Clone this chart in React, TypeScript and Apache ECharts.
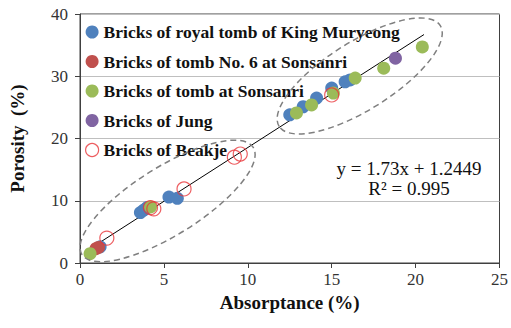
import React, { useEffect, useRef } from "react";
import * as echarts from "echarts";

const xTicks = [0, 5, 10, 15, 20, 25];
const yTicks = [0, 10, 20, 30, 40];

const royalTomb: number[][] = [
  [1.2, 2.6], [3.6, 8.1], [3.8, 8.5], [4.0, 8.9], [5.3, 10.6], [5.8, 10.4],
  [12.5, 23.8], [13.3, 25.1], [14.1, 26.5], [15.0, 28.1], [15.8, 29.1], [16.1, 29.4],
];
const tombNo6: number[][] = [[0.95, 2.3], [1.1, 2.5]];
const tombSonsanri: number[][] = [
  [0.6, 1.5], [4.2, 9.0], [12.9, 24.1], [13.8, 25.4], [15.1, 27.3], [16.4, 29.7],
  [18.1, 31.3], [20.4, 34.7],
];
const jung: number[][] = [[18.8, 32.9]];
const beakje: number[][] = [
  [1.6, 4.0], [4.2, 8.9], [4.4, 8.7], [6.2, 11.9], [9.2, 17.0], [9.55, 17.5], [15.0, 27.0],
];
const trendEnds: number[][] = [[0.6, 2.3], [20.5, 36.7]];
const seriesNames = [
  "Bricks of royal tomb of King Muryeong",
  "Bricks of tomb No. 6 at Sonsanri",
  "Bricks of tomb at Sonsanri",
  "Bricks of Jung",
  "Bricks of Beakje",
];
const equationLines = ["y = 1.73x + 1.2449", "R² = 0.995"];
// ellipse annotation centres in data coordinates
const ellipseCenters: number[][] = [[5.22, 9.96], [16.67, 30.04]];

const SERIF = "Liberation Serif";
const colors = ["#4f81bd", "#c0504d", "#9bbb59", "#8064a2", "#e8363a"];

export default function App() {
  const ref = useRef<HTMLDivElement>(null);
  useEffect(() => {
    if (!ref.current) return;
    const chart = echarts.init(ref.current, undefined, { renderer: "svg" });
    const mk = (name: string, data: number[][], color: string) => ({
      name,
      type: "scatter",
      data,
      symbol: "circle",
      symbolSize: 13,
      itemStyle: { color, opacity: 1 },
      z: 3,
    });
    chart.setOption({
      animation: false,
      backgroundColor: "#ffffff",
      grid: {
        left: 77, right: 8, top: 14, bottom: 65,
        show: true, borderColor: "#404040", borderWidth: 1, backgroundColor: "#fff",
      },
      xAxis: {
        type: "value", min: 0, max: 25, interval: 5,
        name: "Absorptance (%)", nameLocation: "middle", nameGap: 30,
        nameTextStyle: { fontFamily: SERIF, fontSize: 19, fontWeight: "bold", color: "#111" },
        axisLine: { show: true, lineStyle: { color: "#404040", width: 1 } },
        axisTick: { show: true, inside: false, length: 5, lineStyle: { color: "#404040" } },
        axisLabel: { fontFamily: SERIF, fontSize: 17, color: "#333", margin: 8,
          formatter: (v: number) => (xTicks.includes(v) ? String(v) : "") },
        splitLine: { show: false },
      },
      yAxis: {
        type: "value", min: 0, max: 40, interval: 10,
        name: "Porosity  (%)", nameLocation: "middle", nameGap: 53,
        nameTextStyle: { fontFamily: SERIF, fontSize: 19, fontWeight: "bold", color: "#111" },
        axisLine: { show: true, lineStyle: { color: "#404040", width: 1 } },
        axisTick: { show: true, inside: false, length: 5, lineStyle: { color: "#404040" } },
        axisLabel: { fontFamily: SERIF, fontSize: 17, color: "#333", margin: 12,
          formatter: (v: number) => (yTicks.includes(v) ? String(v) : "") },
        splitLine: { show: true, lineStyle: { color: "#bfbfbf", width: 1 } },
      },
      legend: {
        orient: "vertical", left: 80, top: 18, itemWidth: 13, itemHeight: 13, itemGap: 11.5,
        icon: "circle",
        textStyle: { fontFamily: SERIF, fontSize: 17.5, fontWeight: "bold", color: "#111" },
        data: [
          { name: seriesNames[0] },
          { name: seriesNames[1] },
          { name: seriesNames[2] },
          { name: seriesNames[3] },
          { name: seriesNames[4], itemStyle: { color: "#fff", borderColor: colors[4], borderWidth: 1.2 } },
        ],
      },
      series: [
        {
          name: "trend", type: "line", data: trendEnds, symbol: "none",
          lineStyle: { color: "#000", width: 1 }, z: 2, silent: true,
        },
        mk(seriesNames[0], royalTomb, colors[0]),
        mk(seriesNames[1], tombNo6, colors[1]),
        mk(seriesNames[2], tombSonsanri, colors[2]),
        mk(seriesNames[3], jung, colors[3]),
        {
          name: seriesNames[4], type: "scatter", data: beakje, symbol: "circle", symbolSize: 14,
          itemStyle: { color: "rgba(255,255,255,0)", borderColor: colors[4], borderWidth: 1.2 },
          z: 4,
        },
      ],
    });
    const ellSizes = [[101, 34], [95, 34]];
    const ang = (32 * Math.PI) / 180;
    const graphics: any[] = ellipseCenters.map((c, i) => {
      const p = chart.convertToPixel({ gridIndex: 0 }, c) as number[];
      return {
        type: "ellipse", x: p[0], y: p[1], rotation: ang, silent: true, z: 5,
        shape: { cx: 0, cy: 0, rx: ellSizes[i][0], ry: ellSizes[i][1] },
        style: { fill: "none", stroke: "#7f7f7f", lineWidth: 1.5, lineDash: [6, 4] },
      };
    });
    equationLines.forEach((t, i) => {
      graphics.push({
        type: "text", x: 409, y: 168 + i * 20, z: 6,
        style: { text: t, fontFamily: SERIF, fontSize: 19, fill: "#111",
          textAlign: "center", textVerticalAlign: "middle" },
      });
    });
    chart.setOption({ graphic: graphics });
    return () => chart.dispose();
  }, []);
  return <div ref={ref} style={{ width: 511, height: 328, position: "absolute", left: 0, top: 0 }} />;
}
